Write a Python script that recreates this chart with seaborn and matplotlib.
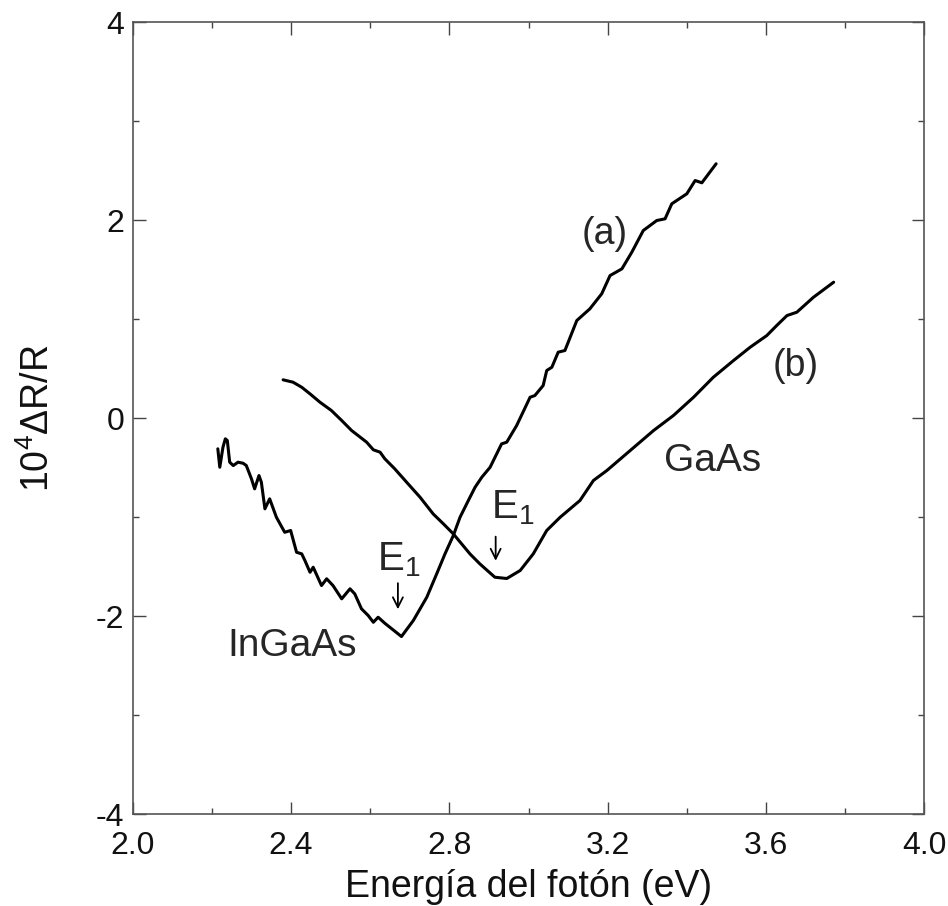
import numpy as np
import pandas as pd
import matplotlib
matplotlib.use("Agg")
import matplotlib.pyplot as plt
import seaborn as sns

# Curve (a): InGaAs
ingaas_x = [2.215, 2.220, 2.228, 2.234, 2.239, 2.245, 2.254, 2.266, 2.279, 2.287,
            2.300, 2.308, 2.319, 2.325, 2.334, 2.346, 2.363, 2.384, 2.399, 2.414,
            2.427, 2.435, 2.448, 2.456, 2.477, 2.490, 2.506, 2.528, 2.549, 2.561,
            2.578, 2.595, 2.608, 2.620, 2.637, 2.679, 2.709, 2.743, 2.768, 2.789,
            2.810, 2.827, 2.848, 2.865, 2.882, 2.903, 2.932, 2.945, 2.970, 3.004,
            3.016, 3.037, 3.046, 3.059, 3.075, 3.092, 3.122, 3.155, 3.185, 3.206,
            3.236, 3.261, 3.290, 3.324, 3.345, 3.362, 3.400, 3.421, 3.438, 3.474]
ingaas_y = [-0.311, -0.497, -0.295, -0.210, -0.227, -0.446, -0.480, -0.446, -0.457, -0.480,
            -0.614, -0.715, -0.581, -0.648, -0.917, -0.816, -1.002, -1.154, -1.136, -1.356,
            -1.372, -1.439, -1.558, -1.507, -1.692, -1.624, -1.692, -1.826, -1.725, -1.776,
            -1.927, -1.995, -2.063, -2.012, -2.073, -2.207, -2.045, -1.810, -1.574, -1.372,
            -1.187, -1.002, -0.833, -0.699, -0.598, -0.497, -0.261, -0.244, -0.076, 0.210,
            0.227, 0.328, 0.480, 0.513, 0.665, 0.682, 0.985, 1.103, 1.255, 1.439,
            1.507, 1.675, 1.894, 1.995, 2.012, 2.164, 2.265, 2.399, 2.376, 2.568]

# Curve (b): GaAs
gaas_x = [2.380, 2.405, 2.427, 2.448, 2.473, 2.502, 2.528, 2.553, 2.591, 2.608,
          2.625, 2.637, 2.662, 2.692, 2.726, 2.759, 2.785, 2.810, 2.852, 2.877,
          2.915, 2.945, 2.979, 3.012, 3.046, 3.080, 3.130, 3.164, 3.198, 3.257,
          3.316, 3.366, 3.417, 3.467, 3.518, 3.560, 3.602, 3.627, 3.653, 3.678,
          3.720, 3.771]
gaas_y = [0.386, 0.362, 0.311, 0.244, 0.160, 0.076, -0.025, -0.126, -0.244, -0.321,
          -0.345, -0.412, -0.513, -0.648, -0.800, -0.968, -1.069, -1.170, -1.372, -1.473,
          -1.608, -1.621, -1.540, -1.372, -1.136, -1.002, -0.833, -0.631, -0.530, -0.328,
          -0.126, 0.025, 0.210, 0.412, 0.581, 0.715, 0.833, 0.934, 1.035, 1.069,
          1.220, 1.372]

x_ticks = [2.0, 2.4, 2.8, 3.2, 3.6, 4.0]
x_ticklabels = ["2.0", "2.4", "2.8", "3.2", "3.6", "4.0"]
y_ticks = [-4, -2, 0, 2, 4]
y_ticklabels = ["-4", "-2", "0", "2", "4"]

sns.set_style("ticks")
plt.rcParams["font.family"] = ["Liberation Sans", "DejaVu Sans"]
plt.rcParams["mathtext.fontset"] = "custom"
plt.rcParams["mathtext.rm"] = "Liberation Sans"

fig = plt.figure(figsize=(9.48, 9.06), dpi=100)
ax = fig.add_axes([0.140, 0.1015, 0.835, 0.8742])

df_a = pd.DataFrame({"x": ingaas_x, "y": ingaas_y})
df_b = pd.DataFrame({"x": gaas_x, "y": gaas_y})
sns.lineplot(data=df_a, x="x", y="y", ax=ax, color="black", lw=2.2, sort=False)
sns.lineplot(data=df_b, x="x", y="y", ax=ax, color="black", lw=2.2, sort=False)

ax.set_xlim(2.0, 4.0)
ax.set_ylim(-4, 4)
ax.set_xticks(x_ticks)
ax.set_xticklabels(x_ticklabels)
ax.set_yticks(y_ticks)
ax.set_yticklabels(y_ticklabels)
ax.set_xticks(np.arange(2.2, 4.0, 0.4), minor=True)
ax.set_yticks([-3, -1, 1, 3], minor=True)
ax.tick_params(which="both", direction="in", top=True, right=True,
               color="#444444", width=1.0, labelsize=23, labelcolor="#111111")
ax.tick_params(axis="x", which="major", pad=12)
ax.tick_params(axis="y", which="major", pad=6)
ax.tick_params(which="major", length=9)
ax.tick_params(which="minor", length=4)
for s in ax.spines.values():
    s.set_color("#555555")
    s.set_linewidth(1.2)

ax.set_xlabel("Energía del fotón (eV)", fontsize=27, labelpad=6, color="#111111")
ax.set_ylabel(r"10$^4$$\Delta$R/R", fontsize=27, labelpad=28, color="#111111")

ax.text(3.193, 1.854, "(a)", fontsize=27, ha="center", va="center")
ax.text(3.674, 0.530, "(b)", fontsize=27, ha="center", va="center")
ax.text(3.464, -0.429, "GaAs", fontsize=28, ha="center", va="center")
ax.text(2.402, -2.298, "InGaAs", fontsize=28, ha="center", va="center")

ax.text(2.618, -1.54, r"E$_1$", fontsize=29, ha="left", va="baseline")
ax.text(2.905, -1.015, r"E$_1$", fontsize=29, ha="left", va="baseline")
ax.annotate("", xy=(2.670, -1.96), xytext=(2.670, -1.64),
            arrowprops=dict(arrowstyle="->", lw=1.3, color="black", mutation_scale=18))
ax.annotate("", xy=(2.917, -1.47), xytext=(2.917, -1.17),
            arrowprops=dict(arrowstyle="->", lw=1.3, color="black", mutation_scale=18))

fig.savefig("out.png", dpi=100)
